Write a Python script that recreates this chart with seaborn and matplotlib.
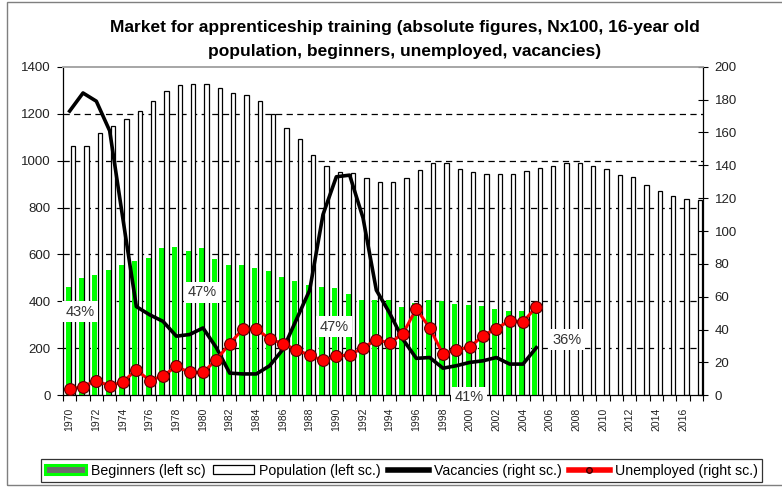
"""
Market for apprenticeship training: bars for beginners / population (left scale),
lines for vacancies / unemployed (right scale).
"""

import matplotlib
matplotlib.use('Agg')
import matplotlib.pyplot as plt
from matplotlib.patches import Patch, Rectangle
from matplotlib.lines import Line2D
import seaborn as sns
import numpy as np
import pandas as pd

years = list(range(1970, 2018))

population = [1062, 1062, 1118, 1147, 1179, 1211, 1253, 1295, 1320, 1325,
              1325, 1309, 1286, 1278, 1253, 1200, 1140, 1090, 1022, 978,
              952, 945, 924, 907, 907, 924, 960, 988, 988, 965,
              950, 943, 943, 943, 955, 970, 977, 991, 991, 977,
              964, 940, 928, 898, 870, 851, 837, 832]

# beginners / vacancies / unemployed only run to 2005
beginners = [463, 500, 513, 533, 556, 571, 587, 626, 630, 616,
             626, 579, 554, 554, 544, 531, 503, 488, 468, 460,
             456, 432, 408, 405, 404, 377, 395, 405, 400, 388,
             385, 381, 366, 360, 360, 377]

vacancies = [173, 184, 179, 161, 107, 54, 49, 45, 36, 37,
             41, 29, 13.5, 13, 13, 18, 28, 46, 64, 110,
             133, 134, 108, 64, 50, 34, 22.5, 23, 16.5, 18,
             20, 21, 23, 19, 19, 29]

unemployed = [3.7, 5.3, 9, 5.7, 8.2, 15.5, 9, 11.8, 17.6, 13.9,
              13.9, 21.6, 31.4, 40.4, 40.4, 34.3, 31.4, 27.8, 24.3, 21.2,
              23.7, 24.7, 28.8, 33.9, 31.8, 37.6, 52.7, 41, 25.1, 27.8,
              29.2, 36.3, 40.6, 45.5, 44.7, 53.7]

# share labels: (text, year position, left-scale height)
share_labels = ['43%', '47%', '47%', '41%', '36%']
share_x = [0.78, 9.93, 19.85, 29.95, 37.3]
share_y = [357, 438, 292, -8, 236]

left_ticks = list(range(0, 1401, 200))
right_ticks = list(range(0, 201, 20))

GREEN = '#00ff00'

plt.rcParams['font.family'] = ['Liberation Sans', 'DejaVu Sans']

idx = np.arange(len(years))
n_short = len(beginners)

bars = pd.DataFrame({'pos': idx, 'population': population})
bars['beginners'] = pd.Series(beginners, dtype=float).reindex(range(len(years)))

fig = plt.figure(figsize=(7.82, 4.87), dpi=100)
ax = fig.add_axes([63 / 782, 1 - 395.3 / 487, 640 / 782, 328.6 / 487])

sns.barplot(x=bars['pos'] - 0.11, y=bars['beginners'], native_scale=True,
            width=0.38, color=GREEN, saturation=1, errorbar=None,
            linewidth=0, ax=ax)
sns.barplot(x=bars['pos'] + 0.27, y=bars['population'], native_scale=True,
            width=0.32, color='white', saturation=1, errorbar=None,
            edgecolor='black', linewidth=0.9, ax=ax)

ax.set_xlim(-0.5, len(years) - 0.5)
ax.set_ylim(0, 1400)
ax.set_yticks(left_ticks)
ax.set_xticks(idx[::2])
ax.set_xticklabels([str(y) for y in years[::2]], rotation=90, fontsize=7.5,
                   color='#222222')
ax.set_xticks(np.arange(-0.5, len(years)), minor=True)
ax.tick_params(axis='x', which='major', length=0, pad=9)
ax.tick_params(axis='x', which='minor', length=4, direction='out', width=0.8)
ax.tick_params(axis='y', length=4, direction='out', width=0.8,
               labelsize=9.5, labelcolor='#222222', pad=5)
ax.set_xlabel('')
ax.set_ylabel('')

ax.set_axisbelow(True)
ax.yaxis.grid(True, color='black', linestyle=(0, (5, 3.5)), linewidth=0.9)
gl = ax.get_ygridlines()
gl[0].set_visible(False)
gl[-1].set_visible(False)

for side in ['left', 'bottom']:
    ax.spines[side].set_color('black')
    ax.spines[side].set_linewidth(0.9)
ax.spines['top'].set_color('#a6a6a6')
ax.spines['top'].set_linewidth(1.2)
ax.spines['right'].set_visible(False)

# lines on the right scale
ax2 = ax.twinx()
sns.lineplot(x=idx[:n_short], y=vacancies, color='black', linewidth=2.6,
             ax=ax2)
sns.lineplot(x=idx[:n_short], y=unemployed, color='#ff0000', linewidth=2.2,
             marker='o', markersize=8.5, markerfacecolor='#ff0000',
             markeredgecolor='#5a0000', markeredgewidth=0.8, ax=ax2)
ax2.set_ylim(0, 200)
ax2.set_yticks(right_ticks)
ax2.tick_params(axis='y', length=7, direction='inout', width=0.8,
                labelsize=9.5, labelcolor='#222222', pad=5)
ax2.set_ylabel('')
for side in ['left', 'bottom']:
    ax2.spines[side].set_visible(False)
ax2.spines['top'].set_color('#a6a6a6')
ax2.spines['top'].set_linewidth(1.2)
ax2.spines['right'].set_color('black')
ax2.spines['right'].set_linewidth(0.9)
ax.set_xlim(-0.5, len(years) - 0.5)

for txt, x, y in zip(share_labels, share_x, share_y):
    ax.text(x, y, txt, ha='center', va='center', fontsize=10.5,
            color='#333333', zorder=5, clip_on=False,
            bbox=dict(facecolor='white', edgecolor='none', pad=2.5))

fig.text(405 / 782, 1 - 32 / 487,
         'Market for apprenticeship training (absolute figures, Nx100, 16-year old',
         ha='center', va='baseline', fontsize=12.5, fontweight='bold')
fig.text(405 / 782, 1 - 56 / 487,
         'population, beginners, unemployed, vacancies)',
         ha='center', va='baseline', fontsize=12.5, fontweight='bold')

handles = [
    Patch(facecolor='#6b6b6b', edgecolor=GREEN, linewidth=2.2),
    Patch(facecolor='white', edgecolor='black', linewidth=0.9),
    Line2D([], [], color='black', linewidth=4),
    Line2D([], [], color='#ff0000', linewidth=4, marker='o', markersize=4,
           markerfacecolor='#cc0000', markeredgecolor='#400000'),
]
labels = ['Beginners (left sc)', 'Population (left sc.)',
          'Vacancies (right sc.)', 'Unemployed (right sc.)']
leg = fig.legend(handles, labels, loc='center', ncol=4,
                 bbox_to_anchor=(401.5 / 782, 1 - 470.5 / 487),
                 fontsize=10.2, frameon=True, fancybox=False, shadow=False,
                 borderpad=0.3, handlelength=2.9, handleheight=0.6,
                 handletextpad=0.35, columnspacing=0.5, borderaxespad=0)
leg.get_frame().set_edgecolor('black')
leg.get_frame().set_linewidth(0.9)

# outer chart frame
fig.patches.append(Rectangle((7 / 782, 2 / 487), 800 / 782, 483 / 487,
                             transform=fig.transFigure, fill=False,
                             edgecolor='#7f7f7f', linewidth=1))

fig.savefig('out.png', dpi=100)
plt.close(fig)
